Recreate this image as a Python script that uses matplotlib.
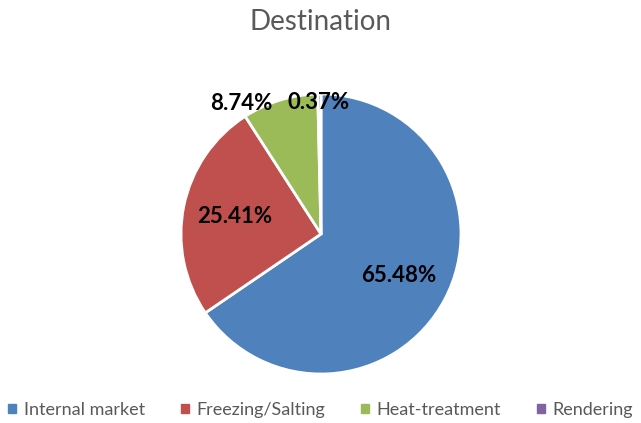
import matplotlib.pyplot as plt
import matplotlib.patches as mpatches

# data
categories = ['Internal market', 'Freezing/Salting', 'Heat-treatment', 'Rendering']
shares = [65.48, 25.41, 8.74, 0.37]
colors = ['#4F81BD', '#C0504D', '#9BBB59', '#8064A2']

plt.rcParams['font.family'] = ['Lato', 'DejaVu Sans']

fig = plt.figure(figsize=(6.41, 4.23), dpi=100)
ax = fig.add_axes([181/641, 49/423, 280/641, 280/423])

wedges, texts, autotexts = ax.pie(shares, colors=colors, startangle=90, counterclock=False,
                                  autopct='%.2f%%', pctdistance=0.63,
                                  wedgeprops=dict(edgecolor='white', linewidth=2),
                                  textprops=dict(fontsize=16, fontweight='bold', color='black'))
ax.set_xlim(-1, 1)
ax.set_ylim(-1, 1)
ax.set_aspect('equal')

# small slices get their labels outside the pie
autotexts[2].set_position((-0.57, 0.93))
autotexts[3].set_position((-0.02, 0.94))

fig.text(0.5, 0.948, 'Destination', ha='center', va='center', fontsize=20, color='#595959')

handles = [mpatches.Patch(color=c, label=l) for c, l in zip(colors, categories)]
fig.legend(handles=handles, loc='center', bbox_to_anchor=(0.5, 0.031), ncol=4, frameon=False,
           handlelength=0.45, handleheight=0.45, handletextpad=0.4, columnspacing=2.0,
           labelcolor='#595959', prop={'size': 13})

fig.savefig('out.png', dpi=100)
